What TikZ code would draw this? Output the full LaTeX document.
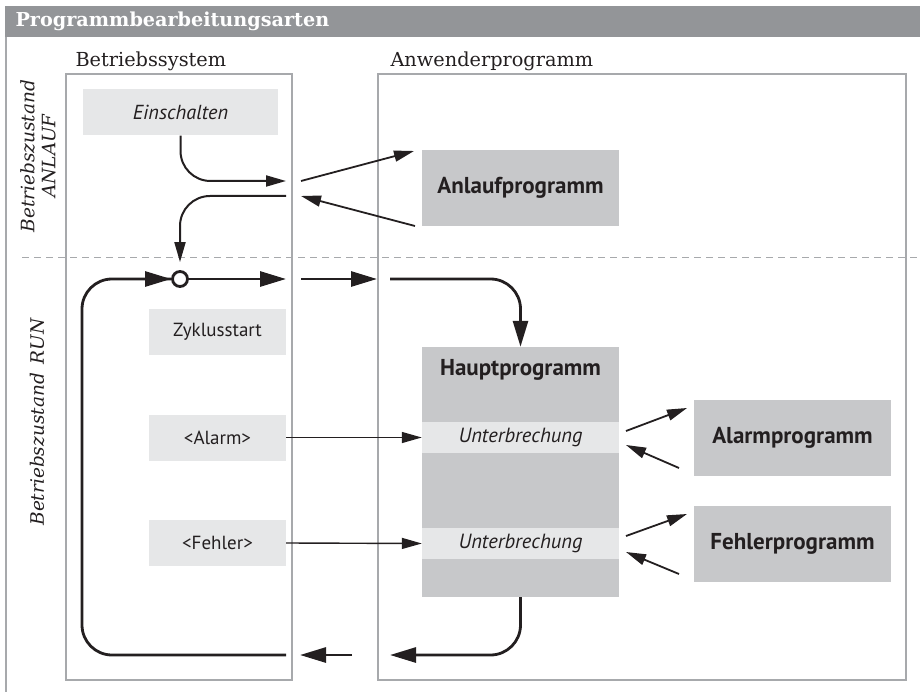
\documentclass[tikz,border=0pt]{standalone}
\usepackage{fontspec}
\setmainfont{DejaVu Serif}
\setsansfont{PT Sans}
\usetikzlibrary{arrows.meta}
\definecolor{headgray}{HTML}{939598}
\definecolor{framegray}{HTML}{A7A9AC}
\definecolor{lightbox}{HTML}{E6E7E8}
\definecolor{midbox}{HTML}{C7C8CA}
\definecolor{ink}{HTML}{231F20}
\begin{document}
\begin{tikzpicture}[x=1pt,y=-1pt,
    frame/.style={draw=framegray,line width=1.2pt},
    osbox/.style={fill=lightbox,minimum width=137pt,minimum height=46pt,inner sep=0pt,font=\sffamily\fontsize{19}{22}\selectfont,text=ink},
    progbox/.style={fill=midbox,minimum width=197pt,minimum height=76pt,inner sep=0pt,font=\sffamily\bfseries\fontsize{23}{26}\selectfont,text=ink},
    ubbox/.style={fill=lightbox,minimum width=197pt,minimum height=31pt,inner sep=0pt,font=\sffamily\itshape\fontsize{20.5}{23}\selectfont,text=ink},
    thinarr/.style={draw=ink,line width=1.4pt,-{Triangle[length=20pt,width=11pt]}},
    thickarr/.style={draw=ink,line width=2.8pt,-{Triangle[length=26pt,width=15pt]}},
    thickline/.style={draw=ink,line width=2.8pt},
    lbl/.style={font=\fontsize{19.3}{22}\selectfont,text=ink},
    state/.style={font=\itshape\fontsize{18.5}{21}\selectfont,text=ink,rotate=90,align=center}]
  \useasboundingbox (0,0) rectangle (920,692);
  \fill[headgray] (5,6) rectangle (920,37);
  \node[anchor=west,text=white,font=\bfseries\fontsize{19.2}{22}\selectfont] (head) at (12,21.5) {Programmbearbeitungsarten};
  \draw[frame] (6,37) -- (6,692);

  \node[lbl,anchor=base west] (bslbl) at (72,67) {Betriebssystem};
  \node[lbl,anchor=base west] (awlbl) at (387,67) {Anwenderprogramm};
  \draw[frame] (66,74) rectangle (292,680);
  \draw[frame] (378,74) rectangle (906,680);
  \draw[framegray,line width=1pt,dash pattern=on 7pt off 5pt] (22,258) -- (920,258);

  \node[state] (anlauf) at (38,156) {Betriebszustand\\ANLAUF};
  \node[state] (run) at (37,422) {Betriebszustand\hspace{9pt}RUN};

  % Betriebssystem
  \node[osbox,minimum width=195pt,font=\sffamily\itshape\fontsize{20.3}{23}\selectfont] (ein) at (180.5,112.5) {Einschalten};
  \node[osbox] (zyk) at (217.5,332) {Zyklusstart};
  \node[osbox] (alarm) at (217.5,437.5) {<Alarm>};
  \node[osbox] (fehler) at (217.5,543) {<Fehler>};

  % Anwenderprogramm
  \node[progbox] (anl) at (520.5,188) {Anlaufprogramm};
  \node[progbox,minimum height=250pt] (hp) at (520.5,472) {};
  \node[font=\sffamily\bfseries\fontsize{23}{26}\selectfont,text=ink] (hptxt) at (520.5,370) {Hauptprogramm};
  \node[ubbox] (ub1) at (520.5,437.5) {Unterbrechung};
  \node[ubbox] (ub2) at (520.5,543.5) {Unterbrechung};
  \node[progbox] (alp) at (792.5,438) {Alarmprogramm};
  \node[progbox] (fep) at (792.5,544) {Fehlerprogramm};

  % Anlauf
  \coordinate (a1) at (286,181);
  \coordinate (a2) at (301,181);
  \coordinate (a3) at (414,151);
  \coordinate (a4) at (415,226);
  \coordinate (a5) at (301,196);
  \coordinate (a6) at (286,196);
  \node[circle,draw=ink,fill=white,line width=2.8pt,minimum size=15pt,inner sep=0pt] (start) at (180,279) {};
  \draw[thinarr,line width=2pt,rounded corners=30pt] (ein.south) |- (a1);
  \draw[thinarr,line width=1.8pt] (a2) -- (a3);
  \draw[thinarr,line width=1.8pt] (a4) -- (a5);
  \draw[thinarr,line width=2pt,rounded corners=30pt,shorten >=8pt] (a6) -| (start.north);

  % Zyklus
  \coordinate (z1) at (286,279);
  \coordinate (z2) at (301,279);
  \coordinate (z3) at (377,279);
  \coordinate (z4) at (390,279);
  \coordinate (r1) at (390,655);
  \coordinate (r2) at (352,655);
  \coordinate (r3) at (300,655);
  \coordinate (r4) at (286,655);
  \coordinate (r5) at (82,279);
  \draw[thickarr] (start.east) -- (z1);
  \draw[thickarr] (z2) -- (z3);
  \draw[thickarr,rounded corners=30pt] (z4) -| (hp.north);
  \draw[thickarr,rounded corners=30pt] (hp.south) |- (r1);
  \draw[thickarr] (r2) -- (r3);
  \draw[thickline,rounded corners=30pt] (r4) -| (r5) -- (r5 -| start.west);
  \draw[thickarr] (r5) ++(25,0) -- (start.west);

  % Unterbrechungen
  \draw[thinarr] (alarm.east) -- (ub1.west);
  \draw[thinarr] (fehler.east) -- (ub2.west);
  \coordinate (u1) at (626,431);
  \coordinate (u2) at (687,408);
  \coordinate (u3) at (679,468);
  \coordinate (u4) at (626,445);
  \coordinate (v1) at (626,536);
  \coordinate (v2) at (687,514);
  \coordinate (v3) at (679,574);
  \coordinate (v4) at (626,552);
  \draw[thinarr,line width=1.8pt] (u1) -- (u2);
  \draw[thinarr,line width=1.8pt] (u3) -- (u4);
  \draw[thinarr,line width=1.8pt] (v1) -- (v2);
  \draw[thinarr,line width=1.8pt] (v3) -- (v4);
\end{tikzpicture}
\end{document}
